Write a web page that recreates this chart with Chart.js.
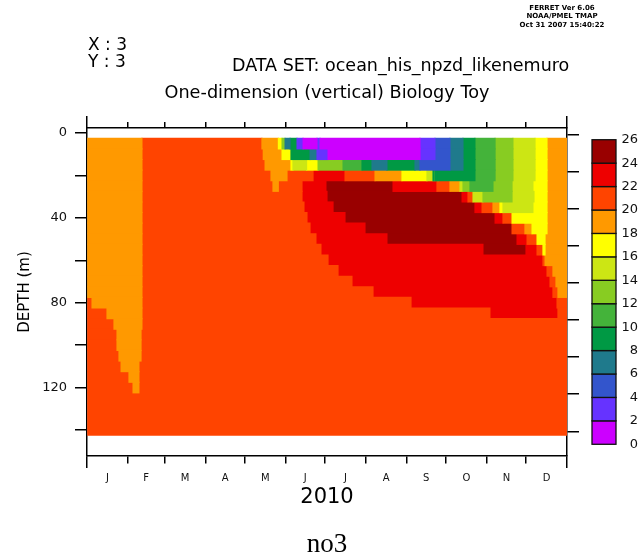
<!DOCTYPE html>
<html><head><meta charset="utf-8">
<script src="https://cdn.jsdelivr.net/npm/chart.js@4/dist/chart.umd.min.js"></script>
<style>html,body{margin:0;padding:0;background:#fff}canvas{display:block}</style>
</head><body>
<canvas id="c" width="641" height="560"></canvas>
<script>
// ---- axis / legend data ----
const monthLabels = ['J','F','M','A','M','J','J','A','S','O','N','D'];
const monthStarts = [0,31,59,90,120,151,181,212,243,273,304,334,365];
const depthTicks  = [0,20,40,60,80,100,120,140];
const depthLabels = [0,40,80,120];
const levels  = [0,2,4,6,8,10,12,14,16,18,20,22,24,26];
const palette = ['#cc00ff','#6633ff','#3355cc','#1f7a8c','#009944','#44b33a','#88cc22',
                 '#cce614','#ffff00','#ff9900','#ff4400','#ee0000','#990000'];
const depths  = [5,10,15,20,25,30,35,40,45,50,55,60,65,70,75,80,85,90,95,100,105,110,115,120,125,130,135,140];

// ---- NO3 per depth layer: [start day of 2010, value] runs ----
const z005 = [[0,19],[41.8,21],[133,19],[145.5,17],[148.3,13],[150.6,7],[154.4,9],[159.7,3],[164.3,1],[174.9,3],[177.2,1],[253.2,3],[264.6,5],[276,7],[285.9,9],[295,11],[310.3,13],[323.9,15],[340.7,17],[349.8,19]];
const z010 = [[0,19],[41.8,21],[134,19],[148.3,17],[155.1,9],[169.6,7],[174.9,3],[183.3,1],[253.2,3],[264.6,5],[276,7],[285.9,9],[295,11],[310.3,13],[323.9,15],[340.7,17],[349.8,19]];
const z015 = [[0,19],[41.8,21],[135.4,19],[155.1,17],[156.6,15],[167,17],[175.7,13],[194.7,11],[209.1,9],[216.7,7],[228.1,9],[249.4,7],[253.2,5],[276,7],[285.9,9],[295,11],[310.3,13],[323.9,15],[340.7,17],[349.8,19]];
const z020 = [[0,19],[41.8,21],[139.9,19],[152.1,21],[171.9,23],[196.2,21],[219,19],[239.5,17],[258.5,15],[263.1,9],[264,13],[265,9],[266.5,13],[267.3,9],[295,11],[310.3,13],[323.9,15],[340.7,17],[349.8,19]];
const z025 = [[0,19],[41.8,21],[141.4,19],[145.5,21],[163.5,23],[181.7,25],[232.7,23],[266.1,21],[276,19],[283.6,15],[285.9,13],[291.2,11],[308.7,13],[323.2,15],[339.1,17],[349.8,19]];
const z030 = [[0,19],[41.8,21],[163.5,23],[182.5,25],[285.2,23],[289.7,21],[293.5,15],[301.1,13],[323.2,15],[339.9,17],[349.8,19]];
const z035 = [[0,19],[41.8,21],[165,23],[187.1,25],[295,23],[300.4,21],[308.7,19],[314,17],[316.3,15],[339.1,17],[349.8,19]];
const z040 = [[0,19],[41.8,21],[167.3,23],[196.2,25],[310.3,23],[316.3,21],[323.2,17],[349.8,19]];
const z045 = [[0,19],[41.8,21],[169.6,23],[211.4,25],[323.2,21],[333,19],[338.4,17],[349.8,19]];
const z050 = [[0,19],[41.8,21],[174.1,23],[228.1,25],[327,23],[334.6,21],[342.2,17],[348.3,19]];
const z055 = [[0,19],[41.8,21],[177.9,23],[301.1,25],[333.8,23],[342.2,21],[346.7,17],[348.3,19]];
const z060 = [[0,19],[41.8,21],[183.3,23],[346.7,21],[348.3,19]];
const z065 = [[0,19],[41.8,21],[190.9,23],[349.8,21],[354.3,19]];
const z070 = [[0,19],[41.8,21],[201.5,23],[352.1,21],[356.6,19]];
const z075 = [[0,19],[41.8,21],[217.5,23],[354.3,21],[358.1,19]];
const z080 = [[0,21],[3.8,19],[41.8,21],[246.4,23],[357.4,21]];
const z085 = [[0,21],[15.2,19],[41.8,21],[306.4,23],[358.1,21]];
const z090 = [[0,21],[20.5,19],[41.8,21]];
const z095 = [[0,21],[22.8,19],[41.1,21]];
const z100 = [[0,21],[22.8,19],[41.1,21]];
const z105 = [[0,21],[24.3,19],[41.1,21]];
const z110 = [[0,21],[25.9,19],[39.5,21]];
const z115 = [[0,21],[31.9,19],[39.5,21]];
const z120 = [[0,21],[35,19],[39.5,21]];
const z125 = [[0,21]];
const z130 = [[0,21]];
const z135 = [[0,21]];
const z140 = [[0,21]];
const layers = [z005,z010,z015,z020,z025,z030,z035,z040,z045,z050,z055,z060,z065,z070,
                z075,z080,z085,z090,z095,z100,z105,z110,z115,z120,z125,z130,z135,z140];
const yearEnd = monthStarts[monthStarts.length-1];

// ---- one floating-bar dataset per contour band ----
const datasets = palette.map((col,i)=>({
  label: levels[i]+'-'+levels[i+1], data: [], backgroundColor: col,
  borderWidth: 0, grouped: false, barPercentage: 1, categoryPercentage: 1, inflateAmount: 0.55
}));
layers.forEach((runs,k)=>{
  runs.forEach((r,j)=>{
    const end = j+1 < runs.length ? runs[j+1][0] : yearEnd;
    const band = Math.min(palette.length-1, Math.floor(r[1]/2));
    datasets[band].data.push({x:[r[0], end], y: depths[k]});
  });
});

const FONT = '"DejaVu Sans", sans-serif';
const black = '#000';
function monthTicks(s){ s.ticks = monthStarts.map(v=>({value:v})); }
const isEnd = c => c.index === 0 || c.index === monthStarts.length-1;

const textPlugin = {
  id: 'ferretText',
  afterDraw(chart){
    const ctx = chart.ctx;
    ctx.save();
    // colour key boxes, positioned by the colour-bar scale
    const cb = chart.scales.cbar;
    for (let i=0;i<palette.length;i++){
      const yt = cb.getPixelForValue(levels[i+1]);
      const yb = cb.getPixelForValue(levels[i]);
      ctx.fillStyle = palette[i];
      ctx.fillRect(cb.left, yt, 24, yb-yt);
      ctx.strokeStyle = '#111'; ctx.lineWidth = 1.3;
      ctx.strokeRect(cb.left, yt, 24, yb-yt);
    }
    ctx.fillStyle = black;
    ctx.textBaseline = 'middle';
    ctx.textAlign = 'center';
    ctx.font = 'bold 7px ' + FONT;
    ['FERRET Ver 6.06','NOAA/PMEL TMAP','Oct 31 2007 15:40:22'].forEach((t,i)=>ctx.fillText(t, 562, 8+i*8.5));
    ctx.textAlign = 'left';
    ctx.font = '17px ' + FONT;
    ctx.fillText('X : 3', 88, 46);
    ctx.fillText('Y : 3', 88, 63);
    ctx.font = '17.5px ' + FONT;
    ctx.fillText('DATA SET: ocean_his_npzd_likenemuro', 232, 66);
    ctx.textAlign = 'center';
    ctx.font = '17.7px ' + FONT;
    ctx.fillText('One-dimension (vertical) Biology Toy', 327, 93);
    ctx.font = '21px ' + FONT;
    ctx.fillText('2010', 327, 498);
    ctx.font = '27px "Liberation Serif", serif';
    ctx.fillText('no3', 327, 545);
    ctx.save();
    ctx.translate(25, 292);
    ctx.rotate(-Math.PI/2);
    ctx.font = '15px ' + FONT;
    ctx.fillText('DEPTH (m)', 0, 0);
    ctx.restore();
    ctx.restore();
  }
};

new Chart(document.getElementById('c'), {
  type: 'bar',
  data: { datasets },
  plugins: [textPlugin],
  options: {
    indexAxis: 'y',
    responsive: false,
    animation: false,
    events: [],
    layout: { autoPadding: false, padding: { top: 122, left: 0, right: 3, bottom: 0 } },
    plugins: { legend: { display: false }, tooltip: { enabled: false }, title: { display: false } },
    scales: {
      y: {
        type: 'linear', position: 'left', reverse: true, min: -2.36, max: 152.26, offset: false,
        afterBuildTicks: s => { s.ticks = depthTicks.map(v=>({value:v})); },
        afterFit: s => { s.width = 87; },
        ticks: { callback: v => depthLabels.includes(v) ? String(v) : '', font: { family: FONT, size: 13 }, color: '#111', padding: 8 },
        grid: { drawOnChartArea: false, offset: false, color: black, lineWidth: 1.5, tickLength: 12 },
        border: { display: true, color: black, width: 1.5 }
      },
      yRight: {
        type: 'linear', axis: 'y', position: 'right', weight: 0, reverse: true, min: -2.36, max: 152.26,
        afterBuildTicks: s => { s.ticks = depthTicks.map(v=>({value:v})); },
        afterFit: s => { s.width = 25; },
        ticks: { display: false },
        grid: { drawOnChartArea: false, color: black, lineWidth: 1.5, tickLength: 12 },
        border: { display: true, color: black, width: 1.5 }
      },
      cbar: {
        type: 'linear', axis: 'y', position: 'right', weight: 1, min: levels[0], max: levels[levels.length-1],
        afterBuildTicks: s => { s.ticks = levels.map(v=>({value:v})); },
        afterFit: s => { s.width = 46; },
        ticks: { crossAlign: 'far', font: { family: FONT, size: 13 }, color: '#111' },
        grid: { display: false, drawTicks: false },
        border: { display: false }
      },
      x: {
        type: 'linear', position: 'bottom', weight: 0, min: 0, max: yearEnd,
        afterBuildTicks: monthTicks,
        afterFit: s => { s.height = 8; },
        ticks: { callback: () => '', maxRotation: 0 },
        grid: { drawOnChartArea: false, color: black, lineWidth: 1.5, tickLength: 12,
                tickBorderDash: c => isEnd(c) ? [] : [7, 40] },
        border: { display: true, color: black, width: 1.5 }
      },
      xTop: {
        type: 'linear', axis: 'x', position: 'top', min: 0, max: yearEnd,
        afterBuildTicks: monthTicks,
        afterFit: s => { s.height = 6; },
        ticks: { callback: () => '', maxRotation: 0 },
        grid: { drawOnChartArea: false, color: black, lineWidth: 1.5, tickLength: 12,
                tickBorderDash: c => isEnd(c) ? [] : [0, 6, 6, 40] },
        border: { display: true, color: black, width: 1.5 }
      },
      xMonths: {
        type: 'linear', axis: 'x', position: 'bottom', weight: 1, min: 0, max: yearEnd,
        afterBuildTicks: s => { s.ticks = monthLabels.map((m,i)=>({value:(monthStarts[i]+monthStarts[i+1])/2})); },
        afterFit: s => { s.height = 96; },
        ticks: { callback: (v,i) => monthLabels[i], maxRotation: 0, autoSkip: false, padding: 8.5, font: { family: FONT, size: 10 }, color: '#111' },
        grid: { display: false, drawTicks: false },
        border: { display: false }
      }
    }
  }
});
</script>
</body></html>
